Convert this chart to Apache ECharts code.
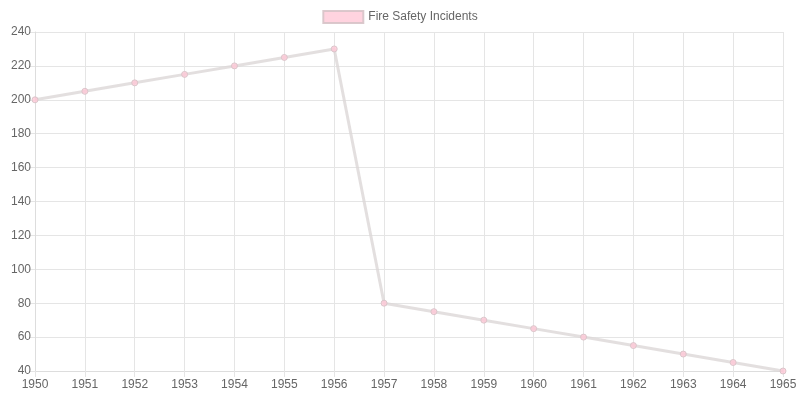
<!DOCTYPE html>
<html style="height: 100%">
  <head>
    <meta charset="UTF-8" />
    <script src="https://cdn.jsdelivr.net/npm/echarts/dist/echarts.min.js"></script>
  </head>
  <body style="height: 100%; margin: 0; background: #fff">
    <div id="main" style="width: 800px; height: 400px"></div>
    <script>
      var years = ['1950', '1951', '1952', '1953', '1954', '1955', '1956', '1957',
        '1958', '1959', '1960', '1961', '1962', '1963', '1964', '1965'];
      var incidents = [200, 205, 210, 215, 220, 225, 230, 80, 75, 70, 65, 60, 55, 50, 45, 40];

      var myChart = echarts.init(document.getElementById('main'));
      var option = {
        animation: false,
        textStyle: { fontFamily: 'Liberation Sans, Arial, sans-serif' },
        legend: {
          top: 5,
          itemWidth: 40,
          itemHeight: 12,
          textStyle: { color: '#666', fontSize: 12 },
          data: [{ name: 'Fire Safety Incidents', icon: 'rect' }]
        },
        grid: { left: 35, right: 17, top: 32, bottom: 29 },
        xAxis: {
          type: 'category',
          boundaryGap: false,
          data: years,
          axisLine: { lineStyle: { color: '#ddd' } },
          axisTick: { show: true, length: 6, lineStyle: { color: '#e5e5e5' } },
          axisLabel: { color: '#666', fontSize: 12 },
          splitLine: { show: true, lineStyle: { color: '#e5e5e5' } }
        },
        yAxis: {
          type: 'value',
          min: 40,
          max: 240,
          interval: 20,
          axisLine: { show: true, lineStyle: { color: '#ddd' } },
          axisTick: { show: true, length: 6, lineStyle: { color: '#e5e5e5' } },
          axisLabel: { color: '#666', fontSize: 12, margin: 4 },
          splitLine: { lineStyle: { color: '#e5e5e5' } }
        },
        series: [{
          name: 'Fire Safety Incidents',
          type: 'line',
          data: incidents,
          symbol: 'circle',
          symbolSize: 6,
          itemStyle: { color: 'rgba(255,200,215,0.8)', borderColor: 'rgba(215,195,200,0.9)', borderWidth: 1 },
          lineStyle: { color: 'rgba(220,215,215,0.8)', width: 3 }
        }]
      };
      myChart.setOption(option);
    </script>
  </body>
</html>
